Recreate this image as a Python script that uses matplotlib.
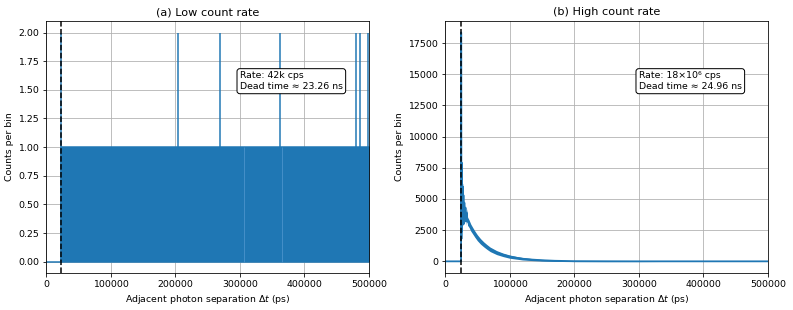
import matplotlib
matplotlib.use("Agg")
import matplotlib.pyplot as plt

# Panel (a): low count rate -- histogram is 0/1 per bin past the dead time
lo_dead_ps = 23260
lo_flat_sep = [0, 23260]
lo_flat_counts = [0, 0]
lo_band_sep = [23260, 500000]
lo_band_counts = [1, 1]
lo_spike_sep = [23500, 204000, 270000, 361500, 480000, 486500, 498500]
lo_spike_counts = [2, 2, 2, 2, 2, 2, 2]
lo_gap_sep = [307000, 366000]

# Panel (b): high count rate -- decay after the dead time
hi_dead_ps = 24960
hi_sep = [0, 24900, 25100, 25500, 25900, 26300, 26700, 27100, 27600, 28100,
          28600, 29200, 30000, 30800, 31700, 32600, 33600, 35000, 37000,
          40000, 43000, 46000, 50000, 55000, 60000, 65000, 70000, 80000,
          90000, 100000, 110000, 120000, 135000, 150000, 170000, 200000,
          250000, 300000, 400000, 500000]
hi_counts = [0, 0, 18340, 1800, 7900, 2400, 6200, 2900, 6000, 3100,
             5300, 3000, 4700, 3200, 4300, 3200, 3900, 3200, 3050,
             2700, 2450, 2200, 1900, 1600, 1360, 1150, 960, 700,
             520, 380, 290, 210, 140, 90, 45, 15,
             5, 0, 0, 0]
# half-width of the noisy band around the decay
hi_spread = [0, 0, 0, 0, 0, 0, 0, 0, 0, 0,
             0, 0, 0, 0, 300, 320, 320, 320, 300,
             280, 260, 250, 240, 220, 200, 190, 180, 160,
             140, 130, 110, 100, 80, 70, 50, 40,
             30, 20, 0, 0]

plt.rcParams['font.size'] = 9.4
plt.rcParams['font.family'] = 'DejaVu Sans'

fig, (ax1, ax2) = plt.subplots(1, 2, figsize=(793 / 72, 310 / 72), dpi=72)
fig.subplots_adjust(left=0.058, right=0.9685, top=0.932, bottom=0.119, wspace=0.235)

blue = '#1f77b4'

# (a)
ax1.set_axisbelow(True)
ax1.plot(lo_flat_sep, lo_flat_counts, color=blue, lw=1.5)
ax1.fill_between(lo_band_sep, 0, lo_band_counts, color=blue, lw=1.5, edgecolor=blue)
ax1.vlines(lo_spike_sep, 0, lo_spike_counts, color=blue, lw=1.5)
ax1.vlines(lo_gap_sep, 0, 1, color='#4d94cc', lw=0.8)
ax1.axvline(lo_dead_ps, color='black', ls='--', lw=1.5)
ax1.set_xlim(0, 500000)
ax1.set_title("(a) Low count rate")
ax1.set_xlabel(r"Adjacent photon separation $\Delta t$ (ps)")
ax1.set_ylabel("Counts per bin")
ax1.grid(True)
ax1.text(0.6, 0.8, "Rate: 42k cps\nDead time ≈ 23.26 ns", transform=ax1.transAxes,
         va='top', ha='left', bbox=dict(boxstyle='round', fc='white', ec='black'))

# (b)
ax2.set_axisbelow(True)
lower = [c - s for c, s in zip(hi_counts, hi_spread)]
upper = [c + s for c, s in zip(hi_counts, hi_spread)]
ax2.fill_between(hi_sep, lower, upper, color=blue, lw=0)
ax2.plot(hi_sep, hi_counts, color=blue, lw=1.8)
ax2.axvline(hi_dead_ps, color='black', ls='--', lw=1.5)
ax2.set_xlim(0, 500000)
ax2.set_title("(b) High count rate")
ax2.set_xlabel(r"Adjacent photon separation $\Delta t$ (ps)")
ax2.set_ylabel("Counts per bin")
ax2.grid(True)
ax2.text(0.6, 0.8, "Rate: 18×10⁶ cps\nDead time ≈ 24.96 ns", transform=ax2.transAxes,
         va='top', ha='left', bbox=dict(boxstyle='round', fc='white', ec='black'))

fig.savefig("out.png", dpi=72)
